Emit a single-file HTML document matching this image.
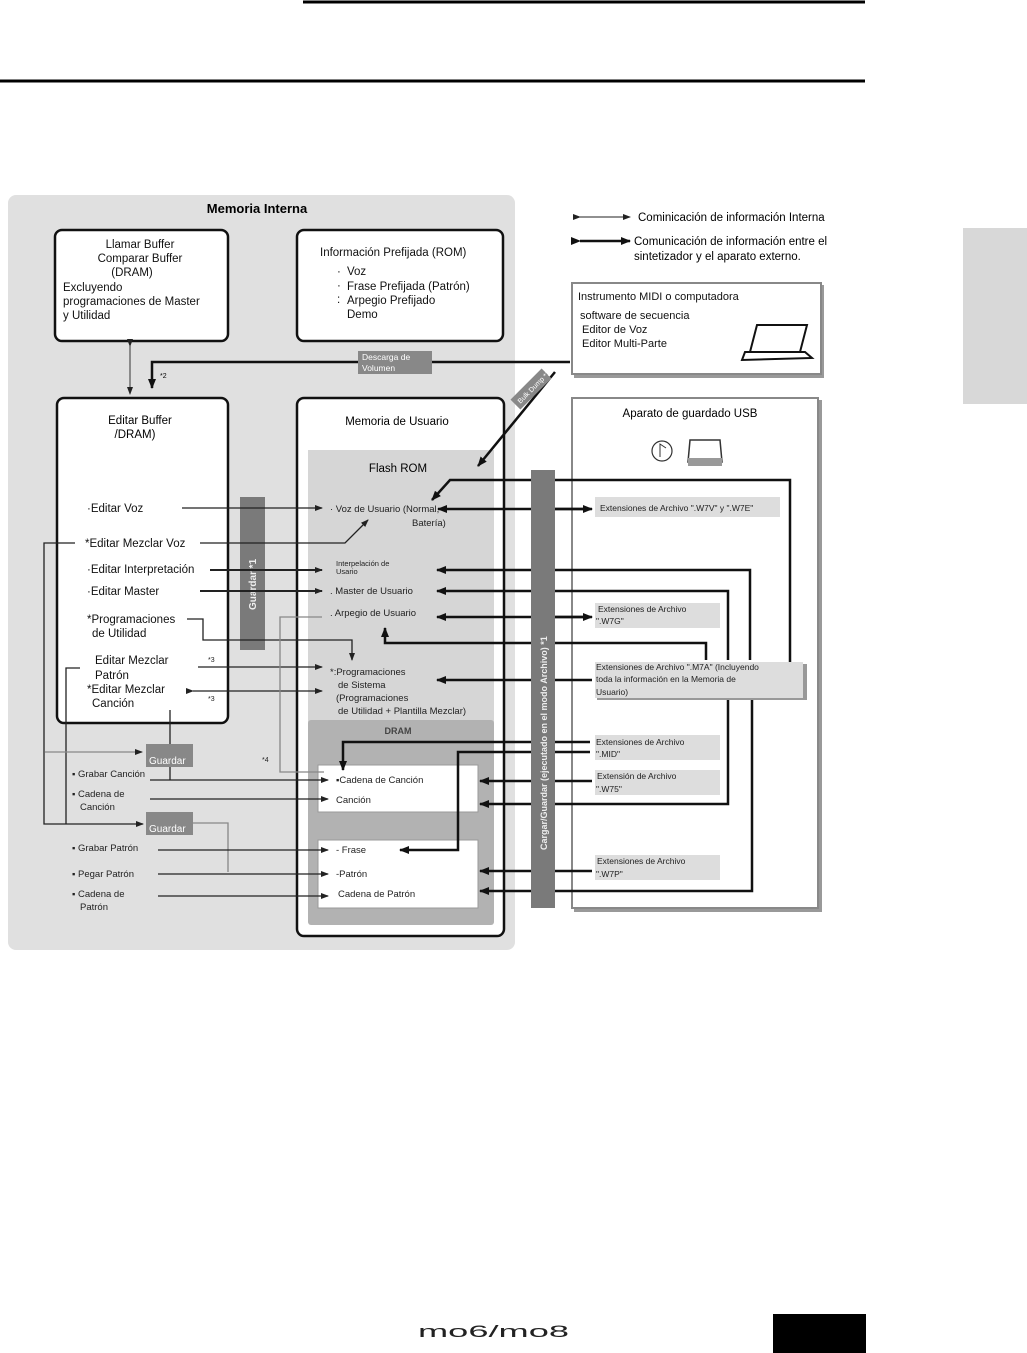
<!DOCTYPE html>
<html><head><meta charset="utf-8"><style>
html,body{margin:0;padding:0;background:#fff;}
svg{display:block;font-family:"Liberation Sans",sans-serif;}
</style></head><body>
<svg width="1027" height="1353" viewBox="0 0 1027 1353" xmlns="http://www.w3.org/2000/svg">
<defs>
<marker id="a" markerWidth="8" markerHeight="6" refX="7" refY="3" orient="auto" markerUnits="userSpaceOnUse"><path d="M0,0 L8,3 L0,6z" fill="#222"/></marker>
<marker id="b" markerWidth="10" markerHeight="8" refX="9" refY="4" orient="auto" markerUnits="userSpaceOnUse"><path d="M0,0 L10,4 L0,8z" fill="#111"/></marker>
</defs>
<!-- page rules -->
<line x1="303" y1="2" x2="865" y2="2" stroke="#000" stroke-width="3"/>
<line x1="0" y1="81" x2="865" y2="81" stroke="#000" stroke-width="3"/>
<rect x="963" y="228" width="64" height="176" fill="#d8d8d8"/>
<!-- panels -->
<rect x="8" y="195" width="507" height="755" rx="8" fill="#e0e0e0"/>
<text x="257" y="213" font-size="13" font-weight="bold" text-anchor="middle">Memoria Interna</text>
<rect x="55" y="230" width="173" height="111" rx="7" fill="#fff" stroke="#111" stroke-width="2.5"/>
<g font-size="11.5" fill="#111">
<text x="140" y="248" text-anchor="middle">Llamar Buffer</text>
<text x="140" y="262" text-anchor="middle">Comparar Buffer</text>
<text x="132" y="276" text-anchor="middle">(DRAM)</text>
<text x="63" y="291">Excluyendo</text>
<text x="63" y="305">programaciones de Master</text>
<text x="63" y="319">y Utilidad</text>
</g>
<rect x="297" y="230" width="206" height="111" rx="7" fill="#fff" stroke="#111" stroke-width="2.5"/>
<g font-size="11.5" fill="#111">
<text x="320" y="256">Información  Prefijada (ROM)</text>
<text x="347" y="275">Voz</text>
<text x="347" y="290">Frase Prefijada (Patrón)</text>
<text x="347" y="304">Arpegio Prefijado</text>
<text x="347" y="318">Demo</text>
<text x="337" y="275">·</text><text x="337" y="289">·</text><text x="337" y="303">:</text>
</g>
<rect x="57" y="398" width="171" height="325" rx="7" fill="#fff" stroke="#111" stroke-width="2.5"/>
<text x="140" y="424" font-size="11.5" text-anchor="middle">Editar Buffer</text>
<text x="135" y="438" font-size="11.5" text-anchor="middle">/DRAM)</text>
<rect x="297" y="398" width="207" height="538" rx="7" fill="#fff" stroke="#111" stroke-width="2.5"/>
<text x="397" y="425" font-size="11.5" text-anchor="middle">Memoria de Usuario</text>
<rect x="308" y="450" width="186" height="274" fill="#d6d6d6"/>
<text x="398" y="472" font-size="11.5" text-anchor="middle">Flash ROM</text>
<rect x="308" y="720" width="186" height="205" rx="3" fill="#b2b2b2"/>
<text x="398" y="734" font-size="9" font-weight="bold" fill="#444" text-anchor="middle">DRAM</text>
<rect x="318" y="765" width="160" height="47" fill="#fff" stroke="#999"/>
<rect x="318" y="840" width="160" height="68" fill="#fff" stroke="#999"/>
<!-- right boxes -->
<rect x="574" y="285" width="250" height="93" fill="#999"/>
<rect x="572" y="283" width="249" height="91" fill="#fff" stroke="#888" stroke-width="2"/>
<g font-size="11" fill="#111">
<text x="578" y="300">Instrumento MIDI o computadora</text>
<text x="580" y="319">software de secuencia</text>
<text x="582" y="333">Editor de Voz</text>
<text x="582" y="347">Editor Multi-Parte</text>
</g>
<path d="M757,325 L807,325 L800,352 L750,352Z" fill="#fff" stroke="#111" stroke-width="2"/>
<path d="M745,352 L805,352 L812,358 L742,360Z" fill="#fff" stroke="#111" stroke-width="2"/>
<rect x="574" y="400" width="248" height="512" fill="#999"/>
<rect x="572" y="398" width="246" height="510" fill="#fff" stroke="#888" stroke-width="2"/>
<text x="690" y="417" font-size="11.5" text-anchor="middle">Aparato de guardado USB</text>
<circle cx="662" cy="451" r="10" fill="none" stroke="#333" stroke-width="1.2"/>
<path d="M660,457 L660,444 L666,448" fill="none" stroke="#333"/>
<path d="M690,440 L720,440 L722,462 L688,462Z" fill="#fff" stroke="#333" stroke-width="1.5"/>
<rect x="688" y="458" width="34" height="8" fill="#999"/>
<!-- legend -->
<line x1="580" y1="217" x2="630" y2="217" stroke="#222" stroke-width="1" marker-end="url(#a)" marker-start="url(#a)"/>
<text x="638" y="221" font-size="11.5">Cominicación de información Interna</text>
<line x1="580" y1="241" x2="630" y2="241" stroke="#111" stroke-width="2.5" marker-end="url(#b)" marker-start="url(#b)"/>
<text x="634" y="245" font-size="11.5">Comunicación de información entre el</text>
<text x="634" y="260" font-size="11.5">sintetizador y el aparato externo.</text>
<!-- ext labels -->
<g font-size="8.5" fill="#222">
<rect x="595" y="497" width="185" height="20" fill="#ddd"/><text x="600" y="511">Extensiones de Archivo ".W7V" y ".W7E"</text>
<rect x="595" y="603" width="125" height="25" fill="#ddd"/><text x="598" y="612">Extensiones de Archivo</text><text x="596" y="624">".W7G"</text>
<rect x="597" y="664" width="210" height="36" fill="#999"/>
<rect x="595" y="662" width="208" height="36" fill="#ddd"/><text x="596" y="670">Extensiones de Archivo ".M7A" (Incluyendo</text><text x="596" y="682">toda la información en la Memoria de</text><text x="596" y="695">Usuario)</text>
<rect x="595" y="735" width="125" height="25" fill="#ddd"/><text x="596" y="745">Extensiones de Archivo</text><text x="596" y="757">".MID"</text>
<rect x="595" y="770" width="125" height="25" fill="#ddd"/><text x="597" y="779">Extensión de Archivo</text><text x="596" y="792">".W75"</text>
<rect x="595" y="855" width="125" height="25" fill="#ddd"/><text x="597" y="864">Extensiones de Archivo</text><text x="596" y="877">".W7P"</text>
</g>
<!-- external thick lines -->
<g stroke="#111" stroke-width="2.5" fill="none">
<polyline points="570,362 152,362 152,388" marker-end="url(#b)"/>
<line x1="555" y1="372" x2="478" y2="466" marker-end="url(#b)"/>
<polyline points="790,662 790,480 450,480 432,500" marker-end="url(#b)"/>
<line x1="590" y1="509" x2="438" y2="509" marker-end="url(#b)"/>
<line x1="555" y1="509" x2="592" y2="509" marker-end="url(#b)"/>
<polyline points="750,660 750,570 437,570" marker-end="url(#b)"/>
<polyline points="728,660 728,591 437,591" marker-end="url(#b)"/>
<line x1="590" y1="617" x2="437" y2="617" marker-end="url(#b)"/>
<line x1="555" y1="617" x2="592" y2="617" marker-end="url(#b)"/>
<polyline points="706,660 706,643 385,643 385,628" marker-end="url(#b)"/>
<line x1="592" y1="680" x2="437" y2="680" marker-end="url(#b)"/>
<polyline points="590,742 343,742 343,770" marker-end="url(#b)"/>
<polyline points="590,752 458,752 458,850 400,850" marker-end="url(#b)"/>
<line x1="592" y1="781" x2="480" y2="781" marker-end="url(#b)"/>
<polyline points="728,700 728,804 480,804" marker-end="url(#b)"/>
<line x1="592" y1="871" x2="480" y2="871" marker-end="url(#b)"/>
<polyline points="752,700 752,891 480,891" marker-end="url(#b)"/>
</g>
<!-- vertical gray bars -->
<rect x="531" y="470" width="24" height="438" fill="#7a7a7a"/>
<text transform="translate(547,850) rotate(-90)" font-size="9" font-weight="bold" fill="#eee">Cargar/Guardar (ejecutado en el modo Archivo) *1</text>
<rect x="240" y="497" width="25" height="153" fill="#7a7a7a"/>
<text transform="translate(256,610) rotate(-90)" font-size="10" font-weight="bold" fill="#eee">Guardar *1</text>
<rect x="358" y="351" width="74" height="23" fill="#888"/>
<text x="362" y="360" font-size="8.5" fill="#fff">Descarga de</text><text x="362" y="371" font-size="8.5" fill="#fff">Volumen</text>
<g transform="translate(531,389) rotate(-45)"><rect x="-22" y="-7" width="44" height="14" fill="#888"/><text x="-18" y="3" font-size="7" fill="#fff">Bulk Dump *1</text></g>
<text x="160" y="378" font-size="7">*2</text>
<line x1="130" y1="346" x2="130" y2="394" stroke="#333" marker-start="url(#a)" marker-end="url(#a)"/>
<!-- left labels -->
<g font-size="11.5" fill="#111">
<text x="87" y="512">·Editar Voz</text>
<text x="85" y="547">*Editar Mezclar Voz</text>
<text x="87" y="573">·Editar Interpretación</text>
<text x="87" y="595">·Editar Master</text>
<text x="87" y="623">*Programaciones</text><text x="92" y="637">de Utilidad</text>
<text x="95" y="664">Editar Mezclar</text><text x="95" y="679">Patrón</text>
<text x="87" y="693">*Editar Mezclar</text><text x="92" y="707">Canción</text>
</g>
<g font-size="9.5" fill="#222">
<text x="72" y="777">▪ Grabar Canción</text>
<text x="72" y="797">▪ Cadena de</text><text x="80" y="810">Canción</text>
<text x="72" y="851">▪ Grabar Patrón</text>
<text x="72" y="877">▪ Pegar Patrón</text>
<text x="72" y="897">▪ Cadena de</text><text x="80" y="910">Patrón</text>
<text x="330" y="512">· Voz de Usuario (Normal,</text><text x="412" y="526">Batería)</text>
<text x="336" y="566" font-size="7.5">Interpelación de</text><text x="336" y="574" font-size="7.5">Usario</text>
<text x="330" y="594">. Master de Usuario</text>
<text x="330" y="616">. Arpegio de Usuario</text>
<text x="330" y="675">*:Programaciones</text><text x="338" y="688">de Sistema</text><text x="336" y="701">(Programaciones</text><text x="338" y="714">de Utilidad + Plantilla Mezclar)</text>
<text x="336" y="783">▪Cadena de Canción</text>
<text x="336" y="803">Canción</text>
<text x="336" y="853">- Frase</text>
<text x="336" y="877">-Patrón</text>
<text x="338" y="897">Cadena de Patrón</text>
<text x="208" y="662" font-size="7">*3</text><text x="208" y="701" font-size="7">*3</text><text x="262" y="762" font-size="7">*4</text>
</g>
<!-- internal thin lines -->
<g stroke="#222" stroke-width="1.3" fill="none">
<line x1="182" y1="508" x2="322" y2="508" marker-end="url(#a)"/>
<polyline points="200,543 345,543 368,520" marker-end="url(#a)"/>
<polyline points="75,543 44,543 44,824 143,824" marker-end="url(#a)"/>
<line x1="210" y1="570" x2="322" y2="570" stroke-width="2" marker-end="url(#a)"/>
<line x1="200" y1="591" x2="322" y2="591" stroke-width="2" marker-end="url(#a)"/>
<polyline points="187,619 203,619 203,640 352,640 352,660" marker-end="url(#a)"/>
<polyline points="198,667 322,667" marker-end="url(#a)"/>
<polyline points="80,668 66,668 66,824"/>
<line x1="193" y1="691" x2="322" y2="691" marker-start="url(#a)" marker-end="url(#a)"/>
<polyline points="170,710 170,780"/>
<polyline points="45,752 142,752" stroke="#888" marker-end="url(#a)"/>
<polyline points="322,617 280,617 280,772 324,772" stroke="#888"/>
<line x1="150" y1="780" x2="328" y2="780" marker-end="url(#a)"/>
<line x1="150" y1="799" x2="328" y2="799" marker-end="url(#a)"/>
<polyline points="193,823 228,823 228,872" stroke="#888"/>
<line x1="158" y1="850" x2="328" y2="850" marker-end="url(#a)"/>
<line x1="158" y1="874" x2="328" y2="874" marker-end="url(#a)"/>
<line x1="158" y1="896" x2="328" y2="896" marker-end="url(#a)"/>
</g>
<rect x="146" y="744" width="47" height="23" fill="#888"/><text x="149" y="764" font-size="10" fill="#fff">Guardar</text>
<rect x="146" y="812" width="47" height="23" fill="#888"/><text x="149" y="832" font-size="10" fill="#fff">Guardar</text>
<!-- footer -->
<text x="418" y="1337" font-size="17" fill="#222" font-family="Liberation Sans,sans-serif" textLength="151" lengthAdjust="spacingAndGlyphs">mo6/mo8</text>
<rect x="773" y="1314" width="93" height="39" fill="#000"/>
</svg>
</body></html>
